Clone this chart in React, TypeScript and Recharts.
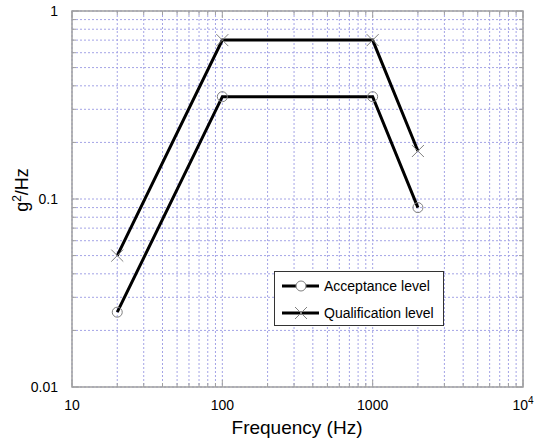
import { FC } from 'react'
import { LineChart, Line, XAxis, YAxis, CartesianGrid, ReferenceArea } from 'recharts';

// frequency points (Hz)
const FREQ = [20, 100, 1000, 2000];
// PSD levels (g^2/Hz)
const ACCEPTANCE = [0.025, 0.35, 0.35, 0.09];
const QUALIFICATION = [0.05, 0.7, 0.7, 0.18];

const X_MAJOR = [10, 100, 1000, 10000];
const Y_MAJOR = [0.01, 0.1, 1];
const X_TICKS = [10, 20, 30, 40, 50, 60, 70, 80, 90, 100, 200, 300, 400, 500, 600, 700, 800, 900,
    1000, 2000, 3000, 4000, 5000, 6000, 7000, 8000, 9000, 10000];
const Y_TICKS = [0.01, 0.02, 0.03, 0.04, 0.05, 0.06, 0.07, 0.08, 0.09, 0.1,
    0.2, 0.3, 0.4, 0.5, 0.6, 0.7, 0.8, 0.9, 1];

const acceptanceData = FREQ.map((f, i) => ({ x: f, y: ACCEPTANCE[i] }));
const qualificationData = FREQ.map((f, i) => ({ x: f, y: QUALIFICATION[i] }));

const W = 534;
const H = 441;
const TOP = 11;
const BOTTOM = 387;
const LEFT = 72;
const RIGHT = 523;
const FONT = 'Liberation Sans, Arial, sans-serif';
const FRAME = '#a0a0a0';
const MARK = '#808080';

const XTick = (props: any) => {
    const { x, payload } = props;
    const v = payload.value;
    const major = X_MAJOR.includes(v);
    const len = major ? 7 : 4;
    return (
        <g>
            <line x1={x} y1={BOTTOM} x2={x} y2={BOTTOM - len} stroke={FRAME} />
            <line x1={x} y1={TOP} x2={x} y2={TOP + len} stroke={FRAME} />
            {major && (
                v === 10000 ? (
                    <text x={x} y={410} textAnchor="middle" fontSize={14} fill="#000" fontFamily={FONT}>
                        10<tspan dy={-6} fontSize={10}>4</tspan>
                    </text>
                ) : (
                    <text x={x} y={410} textAnchor="middle" fontSize={14} fill="#000" fontFamily={FONT}>{v}</text>
                )
            )}
        </g>
    );
};

const YTick = (props: any) => {
    const { y, payload } = props;
    const v = payload.value;
    const major = Y_MAJOR.includes(v);
    const len = major ? 7 : 4;
    return (
        <g>
            <line x1={LEFT} y1={y} x2={LEFT + len} y2={y} stroke={FRAME} />
            <line x1={RIGHT} y1={y} x2={RIGHT - len} y2={y} stroke={FRAME} />
            {major && (
                <text x={58} y={y + 5} textAnchor="end" fontSize={14} fill="#000" fontFamily={FONT}>{v}</text>
            )}
        </g>
    );
};

const CircleDot = (props: any) => {
    const { cx, cy, key } = props;
    return <circle key={key} cx={cx} cy={cy} r={5} fill="none" stroke={MARK} strokeWidth={1} />;
};

const CrossDot = (props: any) => {
    const { cx, cy, key } = props;
    const s = 6;
    return (
        <g key={key}>
            <line x1={cx - s} y1={cy - s} x2={cx + s} y2={cy + s} stroke={MARK} strokeWidth={1} />
            <line x1={cx - s} y1={cy + s} x2={cx + s} y2={cy - s} stroke={MARK} strokeWidth={1} />
        </g>
    );
};

const LegendBox = () => (
    <div style={{ position: 'absolute', left: 274, top: 271, width: 170, height: 55, border: '1px solid #333', background: '#fff', boxSizing: 'border-box' }}>
        <svg width={168} height={53} style={{ display: 'block' }}>
            <line x1={7} y1={14} x2={44} y2={14} stroke="#000" strokeWidth={3} />
            <circle cx={26} cy={14} r={5} fill="#fff" stroke={MARK} />
            <text x={49} y={19} fontSize={14} fontFamily={FONT} fill="#000">Acceptance level</text>
            <line x1={7} y1={41} x2={44} y2={41} stroke="#000" strokeWidth={3} />
            <line x1={20} y1={35} x2={32} y2={47} stroke={MARK} />
            <line x1={20} y1={47} x2={32} y2={35} stroke={MARK} />
            <text x={49} y={46} fontSize={14} fontFamily={FONT} fill="#000">Qualification level</text>
        </svg>
    </div>
);

const App: FC = () => {
    return (
        <div style={{ position: 'absolute', left: 0, top: 0, width: W, height: H, background: '#fff' }}>
            <LineChart width={W} height={H} margin={{ top: TOP, right: W - RIGHT, bottom: H - BOTTOM - 30, left: LEFT - 60 }}>
                <CartesianGrid stroke="#a4a4e6" strokeDasharray="2 2" strokeWidth={1} />
                <XAxis dataKey="x" type="number" scale="log" domain={[10, 10000]} ticks={X_TICKS}
                    interval={0} allowDataOverflow axisLine={false} tickLine={false} tick={<XTick />} height={30} />
                <YAxis dataKey="y" type="number" scale="log" domain={[0.01, 1]} ticks={Y_TICKS}
                    interval={0} allowDataOverflow axisLine={false} tickLine={false} tick={<YTick />} width={60} />
                <ReferenceArea x1={10} x2={10000} y1={0.01} y2={1} fill="none" stroke={FRAME} strokeWidth={1.5} ifOverflow="visible" />
                <Line data={acceptanceData} dataKey="y" stroke="#000" strokeWidth={3} dot={<CircleDot />}
                    isAnimationActive={false} name="Acceptance level" />
                <Line data={qualificationData} dataKey="y" stroke="#000" strokeWidth={3} dot={<CrossDot />}
                    isAnimationActive={false} name="Qualification level" />
                <text x={297} y={434} textAnchor="middle" fontSize={19} fontFamily={FONT} fill="#000">Frequency (Hz)</text>
                <text transform="translate(28,190) rotate(-90)" textAnchor="middle" fontSize={18} fontFamily={FONT} fill="#000">
                    g<tspan dy={-7} fontSize={12}>2</tspan><tspan dy={7}>/Hz</tspan>
                </text>
            </LineChart>
            <LegendBox />
        </div>
    )
}

export default App
